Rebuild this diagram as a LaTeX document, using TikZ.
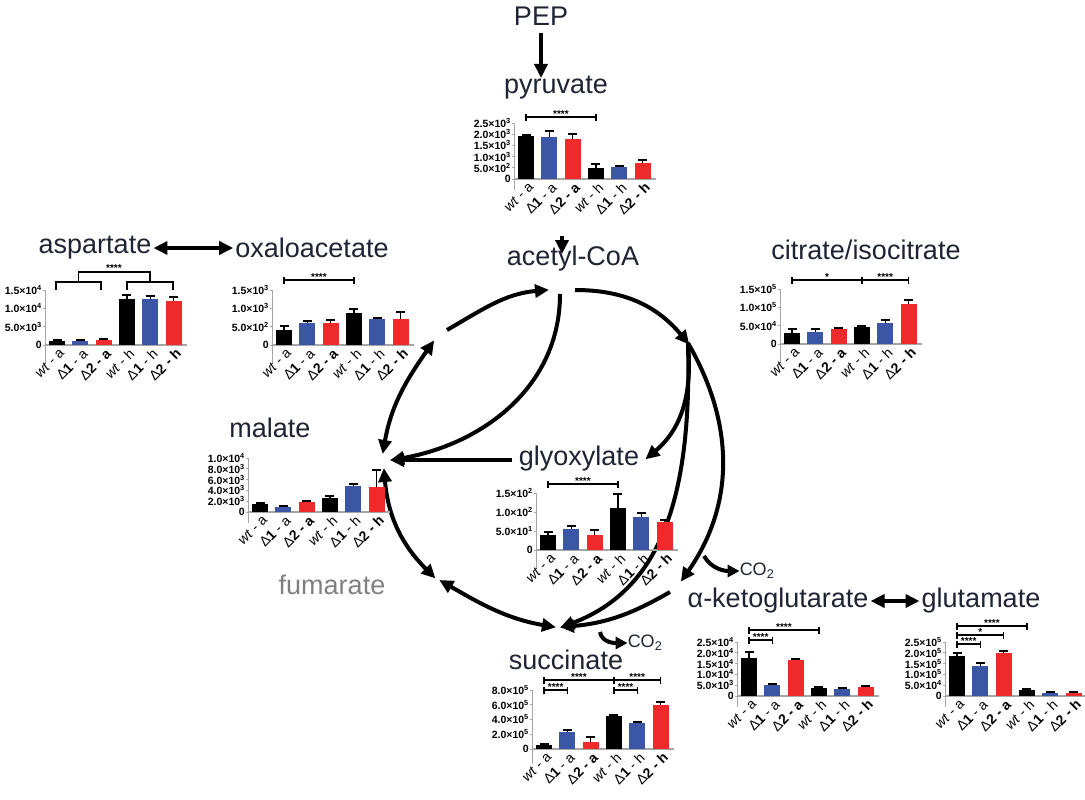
\documentclass[tikz,border=0pt]{standalone}
\usepackage{fontspec}
\setmainfont{Liberation Sans}
\usetikzlibrary{arrows.meta}
\definecolor{bblue}{HTML}{3A56A5}
\definecolor{bred}{HTML}{EE2A2A}
\definecolor{ttl}{HTML}{1E2433}
\tikzset{
 ttl/.style={text=ttl,font=\fontsize{27}{29}\selectfont,inner sep=0pt},
 flow/.style={line width=4pt,shorten >=-2pt,-{Triangle[length=14pt,width=13pt]}},
 dflow/.style={line width=4pt,shorten >=-2pt,shorten <=-2pt,{Triangle[length=14pt,width=13pt]}-{Triangle[length=14pt,width=13pt]}},
 tick/.style={font=\bfseries\fontsize{10.5}{10.5}\selectfont,anchor=east,inner sep=1pt},
 xl/.style={font=\fontsize{14}{14}\selectfont,anchor=east,rotate=45,inner sep=0pt},
}
\newcommand\bchart[5]{% axis x, baseline y, step, ticks, bars h/e
 \begin{scope}[shift={(#1,#2)}]
  \foreach \t [count=\i from 0] in {#4} {
    \draw[gray!70,line width=0.9pt] (-2,{-\i*#3}) -- (0,{-\i*#3}) -- (0,{-(\i-1)*#3});
    \node[tick] at (-2,{-\i*#3}) {\t};}
  \draw[gray!70,line width=1.2pt] (0,0) -- (142,0);
  \foreach \h/\e [count=\i from 0] in {#5} {
    \edef\c{\ifcase\i black\or bblue\or bred\or black\or bblue\or bred\fi}
    \pgfmathsetmacro\cx{12+23.3*\i}
    \fill[\c] (\cx-8,0) rectangle (\cx+8,-\h);
    \draw[line width=1.3pt] (\cx,-\h) -- (\cx,-\e) (\cx-4.5,-\e) -- (\cx+4.5,-\e);}
  \node[xl] at (17,6) {\textit{wt} - a};
  \node[xl] at (40.3,6) {Δ\textbf{1} - a};
  \node[xl] at (63.6,6) {Δ\textbf{2 - a}};
  \node[xl] at (86.9,6) {\textit{wt} - h};
  \node[xl] at (110.2,6) {Δ\textbf{1} - h};
  \node[xl] at (133.5,6) {Δ\textbf{2 - h}};
 \end{scope}}
\newcommand\sig[6]{% axis x, base, i, j, height, text
 \begin{scope}[shift={(#1,#2)}]
  \pgfmathsetmacro\xa{12+23.3*#3}\pgfmathsetmacro\xb{12+23.3*#4}
  \draw[line width=1.2pt] (\xa,-#5+3.5) -- (\xa,-#5-3.5) (\xa,-#5) -- (\xb,-#5) (\xb,-#5+3.5) -- (\xb,-#5-3.5);
  \node[font=\bfseries\fontsize{10}{10}\selectfont,inner sep=0pt,anchor=south] at ({(\xa+\xb)/2},-#5+0.5) {#6};
 \end{scope}}
\begin{document}
\begin{tikzpicture}[x=1pt,y=-1pt]
\useasboundingbox[fill=white] (0,0) rectangle (1085,800);
% titles
\node[ttl] (pep) at (541,16) {PEP};
\node[ttl] (pyr) at (556,88) {pyruvate};
\node[ttl] (aco) at (573,259) {acetyl-CoA};
\node[ttl] (asp) at (95,248) {aspartate};
\node[ttl] (oxa) at (312,248) {oxaloacetate};
\node[ttl] (cit) at (866,250) {citrate/isocitrate};
\node[ttl] (mal) at (270,428) {malate};
\node[ttl] (gly) at (579,459) {glyoxylate};
\node[ttl,text=gray] (fum) at (332,585) {fumarate};
\node[ttl] (akg) at (778,601) {α-ketoglutarate};
\node[ttl] (glu) at (981,601) {glutamate};
\node[ttl] (suc) at (566,660) {succinate};
\node[ttl,font=\fontsize{18}{18}\selectfont] (co2a) at (757,571) {CO\textsubscript{2}};
\node[ttl,font=\fontsize{18}{18}\selectfont] (co2b) at (645,643) {CO\textsubscript{2}};
% straight arrows
\coordinate (p1) at (541,33);
\coordinate (p2) at (541,76);
\draw[flow] (p1) -- (p2);
\coordinate (pb) at (562,236);
\coordinate (pc) at (562,252);
\draw[flow] (pb) -- (pc);
\draw[dflow] ([xshift=4]asp.east) -- ([xshift=-4]oxa.west);
\draw[dflow] ([xshift=4]akg.east) -- ([xshift=-4]glu.west);
% cycle points
\coordinate (A) at (560,294);
\coordinate (A2) at (547,290);
\coordinate (B) at (575,290);
\coordinate (C) at (688,343);
\coordinate (O) at (433,342);
\coordinate (O2) at (447,330);
\coordinate (M) at (383,452);
\coordinate (M2) at (392,460);
\coordinate (M3) at (384,470);
\coordinate (F) at (434,577);
\coordinate (F2) at (441,581);
\coordinate (S) at (554,627);
\coordinate (S2) at (562,627);
\coordinate (K) at (682,580);
\coordinate (K2) at (670,592);
\coordinate (G) at (647,458);
\coordinate (GL) at (512,460);
\coordinate (c1) at (704,556);
\coordinate (c2) at (600,632);
\draw[flow] (O2) to[out=30,in=185] (A2);
\draw[flow] (B) to[out=0,in=130] (C);
\draw[flow] (A) to[out=-90,in=10] (M2);
\draw[flow] (GL) -- (M2);
\draw[dflow] (O) to[out=235,in=80] (M);
\draw[dflow] (M3) to[out=-85,in=135] (F);
\draw[dflow] (F2) to[out=-30,in=170] (S);
\draw[flow] (C) to[out=-85,in=40] (G);
\draw[flow] (C) to[out=-60,in=55] (K);
\draw[flow] (C) .. controls (692,500) and (660,590) .. (S2);
\draw[flow] (K2) to[out=210,in=5] (S2);
\draw[line width=4pt,-{Triangle[length=12pt,width=12pt]}] (c1) to[out=-60,in=180] (co2a.west);
\draw[line width=4pt,-{Triangle[length=12pt,width=12pt]}] (c2) to[out=-80,in=180] (co2b.west);
% charts
\bchart{514}{179}{11.2}{0,5.0×10\textsuperscript{2},1.0×10\textsuperscript{3},1.5×10\textsuperscript{3},2.0×10\textsuperscript{3},2.5×10\textsuperscript{3}}{43/44,42/48,40/45,11/15,12/13,16/19}
\sig{514}{179}{0}{3}{62}{****}
\bchart{45}{345}{18.3}{0,5.0×10\textsuperscript{3},1.0×10\textsuperscript{4},1.5×10\textsuperscript{4}}{4/5,4/5,5/6,46.5/50,46/49,44/48}
\begin{scope}[shift={(45,345)},line width=1.2pt]
 \draw (11,-55) -- (11,-63) -- (56,-63) -- (56,-55);
 \draw (82,-55) -- (82,-63) -- (128,-63) -- (128,-55);
 \draw (33.5,-63) -- (33.5,-73) -- (105,-73) -- (105,-63);
 \node[font=\bfseries\fontsize{10}{10}\selectfont,inner sep=0pt,anchor=south] at (69,-72.5) {****};
\end{scope}
\bchart{272}{345}{18.3}{0,5.0×10\textsuperscript{2},1.0×10\textsuperscript{3},1.5×10\textsuperscript{3}}{15/19,22/24,22/25,32/36,26/27,26/33}
\sig{272}{345}{0}{3}{65}{****}
\bchart{780}{344}{18.3}{0,5.0×10\textsuperscript{4},1.0×10\textsuperscript{5},1.5×10\textsuperscript{5}}{11/15,12/15,15/16,17/18,21/24,40/44}
\sig{780}{344}{0}{3}{64}{*}
\sig{780}{344}{3}{5}{64}{****}
\bchart{248}{512}{10.8}{0,2.0×10\textsuperscript{3},4.0×10\textsuperscript{3},6.0×10\textsuperscript{3},8.0×10\textsuperscript{3},1.0×10\textsuperscript{4}}{8/9,5/6,10/11,14/16,26/28,25/42}
\bchart{536}{550}{19}{0,5.0×10\textsuperscript{1},1.0×10\textsuperscript{2},1.5×10\textsuperscript{2}}{15/18,21/24,15/20,42/56,33/37,28/30}
\sig{536}{550}{0}{3}{66}{****}
\bchart{532}{749}{14.75}{0,2.0×10\textsuperscript{5},4.0×10\textsuperscript{5},6.0×10\textsuperscript{5},8.0×10\textsuperscript{5}}{4/5,17/19,7/12,33/34,26/27,44/47}
\sig{532}{749}{0}{3}{69}{****}
\sig{532}{749}{3}{5}{69}{****}
\sig{532}{749}{0}{1}{59}{****}
\sig{532}{749}{3}{4}{59}{****}
\bchart{737}{696}{10.8}{0,5.0×10\textsuperscript{3},1.0×10\textsuperscript{4},1.5×10\textsuperscript{4},2.0×10\textsuperscript{4},2.5×10\textsuperscript{4}}{38/44,11/12,36/37,8/9,7/8,9/10}
\sig{737}{696}{0}{3}{66}{****}
\sig{737}{696}{0}{1}{56}{****}
\bchart{945}{696}{10.8}{0,5.0×10\textsuperscript{4},1.0×10\textsuperscript{5},1.5×10\textsuperscript{5},2.0×10\textsuperscript{5},2.5×10\textsuperscript{5}}{40/43,30/33,43/45,6/7,3/4,3/4}
\sig{945}{696}{0}{3}{70}{****}
\sig{945}{696}{0}{2}{61}{*}
\sig{945}{696}{0}{1}{52}{****}
\end{tikzpicture}
\end{document}
